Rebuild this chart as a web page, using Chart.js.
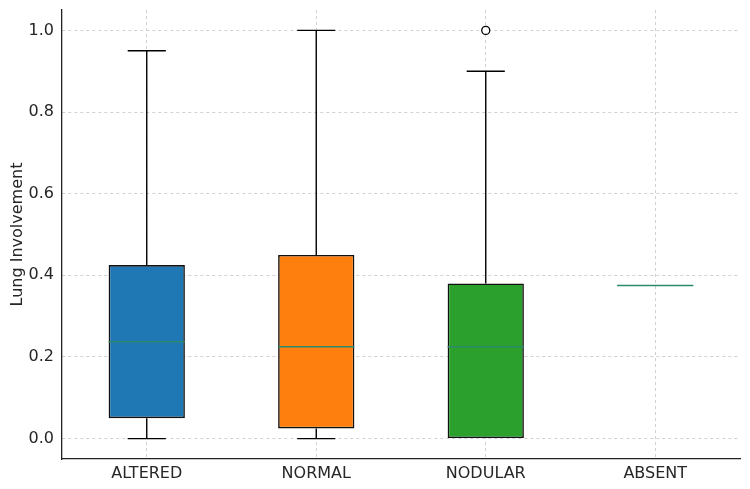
<!DOCTYPE html>
<html>
<head>
  <meta charset="UTF-8">
  <title>Lung Involvement</title>
  <script src="https://cdn.jsdelivr.net/npm/chart.js"></script>
  <style>
    body { margin: 0; background: #fff; }
    #wrap { width: 750px; height: 489px; }
  </style>
</head>
<body>
  <div id="wrap"><canvas id="chart" width="750" height="489"></canvas></div>

  <script>
    // categories and five-number summaries
    const categories = ['ALTERED', 'NORMAL', 'NODULAR', 'ABSENT'];
    const whiskerLow = [0.0, 0.0, 0.0, null];
    const q1 = [0.05, 0.025, 0.0, null];
    const medians = [0.2375, 0.225, 0.225, 0.375];
    const q3 = [0.425, 0.45, 0.38, null];
    const whiskerHigh = [0.95, 1.0, 0.9, null];
    const outliers = [null, null, 1.0, null];
    const yTicks = [0.0, 0.2, 0.4, 0.6, 0.8, 1.0];

    const boxColors = ['#1f77b4', '#ff7f0e', '#2ca02c', '#d62728'];
    const FONT = 'DejaVu Sans';
    const TEXT = '#262626';

    // whiskers, caps and medians drawn on top of the floating bars
    const boxPlugin = {
      id: 'boxParts',
      afterDatasetsDraw(chart) {
        const { ctx, scales: { x, y } } = chart;
        const half = (x.getPixelForValue(1) - x.getPixelForValue(0)) * 0.45 / 2;
        ctx.save();
        categories.forEach((c, i) => {
          const cx = x.getPixelForValue(i);
          if (whiskerHigh[i] != null) {
            ctx.strokeStyle = '#000';
            ctx.lineWidth = 1.4;
            const yh = y.getPixelForValue(whiskerHigh[i]);
            const yl = y.getPixelForValue(whiskerLow[i]);
            ctx.beginPath();
            ctx.moveTo(cx, y.getPixelForValue(q3[i]));
            ctx.lineTo(cx, yh);
            ctx.moveTo(cx - half / 2, yh); ctx.lineTo(cx + half / 2, yh);
            if (whiskerLow[i] < q1[i]) {
              ctx.moveTo(cx, y.getPixelForValue(q1[i]));
              ctx.lineTo(cx, yl);
              ctx.moveTo(cx - half / 2, yl); ctx.lineTo(cx + half / 2, yl);
            }
            ctx.stroke();
          }
          ctx.strokeStyle = '#2a8a6e';
          ctx.lineWidth = 1.5;
          const ym = y.getPixelForValue(medians[i]);
          ctx.beginPath();
          ctx.moveTo(cx - half, ym); ctx.lineTo(cx + half, ym);
          ctx.stroke();
        });
        ctx.restore();
      }
    };

    new Chart(document.getElementById('chart'), {
      type: 'bar',
      data: {
        labels: categories,
        datasets: [{
          data: categories.map((c, i) => q1[i] == null ? null : [q1[i], q3[i]]),
          backgroundColor: boxColors,
          borderColor: '#111',
          borderWidth: 1.6,
          borderSkipped: false,
          categoryPercentage: 1,
          barPercentage: 0.45,
          order: 2
        }, {
          type: 'line',
          data: outliers,
          showLine: false,
          pointRadius: 4,
          pointBorderWidth: 1.3,
          pointBackgroundColor: '#fff',
          pointBorderColor: '#000',
          order: 1
        }]
      },
      options: {
        responsive: false,
        animation: false,
        layout: { padding: { top: 10, right: 10, left: 0, bottom: 0 } },
        plugins: { legend: { display: false }, tooltip: { enabled: false } },
        scales: {
          x: {
            grid: { offset: false, color: '#d0d0d0', drawTicks: false },
            border: { display: true, color: '#222', width: 1.3, dash: [3, 3] },
            ticks: { color: TEXT, font: { family: FONT, size: 16 }, padding: 5 },
            afterFit: s => { s.height = 30; s.paddingLeft = 0; s.paddingRight = 0; }
          },
          y: {
            min: -0.05,
            max: 1.05,
            afterBuildTicks: s => { s.ticks = yTicks.map(v => ({ value: v })); },
            grid: { color: '#d0d0d0', drawTicks: false },
            border: { display: true, color: '#222', width: 1.3, dash: [3, 3] },
            ticks: {
              color: TEXT, font: { family: FONT, size: 16 }, padding: 8,
              callback: v => v.toFixed(1)
            },
            title: {
              display: true, text: 'Lung Involvement', color: TEXT,
              font: { family: FONT, size: 16 }, padding: { top: 8, bottom: 2 }
            },
            afterFit: s => { s.width = 62; s.paddingTop = 0; s.paddingBottom = 0; }
          }
        }
      },
      plugins: [boxPlugin]
    });
  </script>
</body>
</html>
